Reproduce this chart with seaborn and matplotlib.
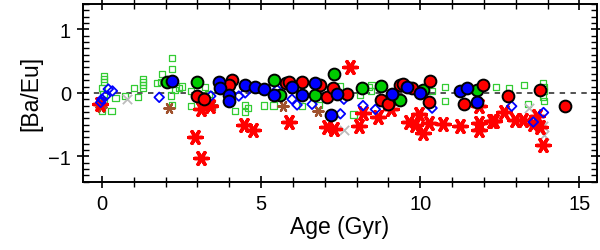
import numpy as np
import pandas as pd
import matplotlib
matplotlib.use('Agg')
import matplotlib.pyplot as plt
from matplotlib.ticker import MultipleLocator
import seaborn as sns

# ---- data: (age in Gyr, [Ba/Eu]) ----
sq_age = [0.07, 0.07, 0.07, 0.0, 0.05, 0.0, 0.3, 0.05, 0.43, 0.72, 1.0, 1.13, 1.3, 1.3, 1.3, 1.3,
          1.72, 1.88, 1.85, 2.2, 2.2, 2.16, 2.2, 2.3, 2.41, 2.52, 2.81, 2.81, 3.25, 3.35, 4.19, 4.5,
          4.5, 4.6, 5.08, 5.39, 6.28, 6.8, 7.48, 7.9, 8.1, 8.37, 8.47, 8.45, 10.36, 10.77, 10.77,
          12.39, 12.78, 13.26, 13.39, 13.86, 13.89, 13.89, 13.86, 13.89]
sq_val = [0.27, 0.22, 0.17, 0.08, -0.02, -0.29, -0.29, -0.15, -0.08, -0.05, 0.08, -0.06, 0.22, 0.17, 0.12, 0.08,
          0.16, 0.3, 0.17, 0.55, 0.37, -0.04, -0.19, 0.05, 0.08, 0.1, 0.03, -0.21, 0.09, -0.02, -0.29, -0.3,
          -0.19, -0.24, -0.2, -0.2, -0.21, -0.19, 0.1, -0.34, -0.03, 0.09, 0.13, 0.03, 0.03, 0.09, -0.13,
          0.09, 0.08, 0.12, -0.17, 0.16, 0.09, 0.03, -0.07, -0.13]

gx_age = [0.8, 7.6, 13.42, 13.85, 13.88]
gx_val = [-0.1, -0.58, -0.24, -0.52, -0.66]

br_age = [-0.02, 2.12, 3.45, 5.7, 6.78]
br_val = [-0.22, -0.24, -0.19, -0.2, -0.28]

rs_age = [-0.05, 2.92, 3.1, 3.1, 3.4, 4.47, 4.76, 5.87, 7.07, 7.28, 7.78, 8.07, 8.2, 8.68, 9.08,
          9.64, 9.83, 9.97, 10.07, 10.27, 10.72, 11.24, 11.85, 11.85, 11.85, 12.25, 12.33, 12.64,
          12.97, 13.23, 13.54, 13.66, 13.75, 13.86]
rs_val = [-0.18, -0.7, -1.02, -0.26, -0.2, -0.5, -0.58, -0.46, -0.54, -0.57, 0.41, -0.52, -0.32, -0.38, -0.25,
          -0.46, -0.5, -0.34, -0.64, -0.47, -0.49, -0.52, -0.47, -0.58, -0.2, -0.44, -0.45, -0.3,
          -0.43, -0.42, -0.49, -0.36, -0.53, -0.82]

bd_age = [-0.04, 0.0, 0.12, 0.2, 0.33, 1.8, 3.42, 4.3, 4.5, 5.5, 5.97, 6.13, 6.6, 7.49, 7.6, 8.2,
          8.59, 10.37, 12.87, 13.55, 13.87]
bd_val = [-0.15, -0.1, -0.05, 0.06, 0.03, -0.07, -0.05, -0.05, 0.0, 0.05, -0.1, -0.19, -0.18, -0.33, -0.1, -0.2,
          -0.26, -0.24, -0.21, -0.46, -0.31]

gc_age = [2.04, 3.0, 5.4, 5.6, 6.7, 7.3, 8.18, 8.78, 9.37, 10.08, 11.78]
gc_val = [0.17, 0.17, 0.21, -0.03, -0.03, 0.3, 0.07, 0.11, -0.12, 0.04, 0.04]

rc_age = [3.0, 3.2, 4.08, 3.98, 5.77, 5.88, 6.28, 6.85, 7.06, 7.27, 7.69, 8.77, 8.98, 9.36, 9.45,
          9.73, 10.3, 10.27, 11.37, 11.97, 12.76, 13.75, 14.56]
rc_val = [-0.05, -0.09, 0.21, 0.12, 0.16, 0.17, 0.17, 0.12, -0.07, 0.08, -0.02, -0.12, -0.17, 0.12, 0.14,
          0.08, 0.19, -0.14, -0.18, 0.12, -0.05, 0.04, -0.2]

bc_age = [2.2, 3.67, 3.72, 3.98, 4.0, 4.48, 4.82, 5.1, 5.42, 5.97, 6.28, 6.7, 7.38, 7.2, 9.1,
          9.57, 10.0, 11.25, 11.46, 11.78]
bc_val = [0.19, 0.17, 0.08, -0.03, -0.13, 0.13, 0.09, 0.06, -0.04, 0.09, -0.03, 0.16, -0.02, -0.35, -0.02,
          0.1, 0.0, 0.03, 0.08, -0.15]

plt.rcParams['font.family'] = ['Liberation Sans', 'DejaVu Sans']

fig = plt.figure(figsize=(6.0, 2.51), dpi=100)
ax = fig.add_axes([0.138, 0.272, 0.857, 0.708])

ast = (6, 2, 90)  # asterisk marker

# open green squares
sns.scatterplot(x=sq_age, y=sq_val, marker='s', s=20, facecolor='none',
                edgecolor='#33cc33', linewidth=0.9, ax=ax, zorder=2)
# grey crosses
sns.scatterplot(x=gx_age, y=gx_val, marker='x', s=45, color='#bbbbbb',
                linewidth=1.3, ax=ax, zorder=3)
# brown asterisks
sns.scatterplot(x=br_age, y=br_val, marker=ast, s=55, color='#a0522d',
                edgecolor='#a0522d', linewidth=1.6, ax=ax, zorder=3)
# red asterisks
sns.scatterplot(x=rs_age, y=rs_val, marker=ast, s=95, color='#ff0000',
                edgecolor='#ff0000', linewidth=2.5, ax=ax, zorder=4)
# open blue diamonds
sns.scatterplot(x=bd_age, y=bd_val, marker='D', s=24, facecolor='none',
                edgecolor='#0000ff', linewidth=1.3, ax=ax, zorder=5)
# filled circles with black rims
sns.scatterplot(x=gc_age, y=gc_val, marker='o', s=72, color='#00cc00',
                edgecolor='black', linewidth=1.4, ax=ax, zorder=6)
sns.scatterplot(x=rc_age, y=rc_val, marker='o', s=72, color='#ff0000',
                edgecolor='black', linewidth=1.4, ax=ax, zorder=6)
sns.scatterplot(x=bc_age, y=bc_val, marker='o', s=72, color='#0000ff',
                edgecolor='black', linewidth=1.4, ax=ax, zorder=6)

ax.axhline(0, color='#444444', linestyle=(0, (3, 3)), linewidth=1.3, zorder=1)

ax.set_xlim(-0.6, 15.55)
ax.set_ylim(-1.4, 1.4)
ax.xaxis.set_major_locator(MultipleLocator(5))
ax.xaxis.set_minor_locator(MultipleLocator(1))
ax.yaxis.set_major_locator(MultipleLocator(1))
ax.yaxis.set_minor_locator(MultipleLocator(0.1))

ax.tick_params(which='major', direction='inout', length=9, width=1.2,
               top=True, right=True, labelsize=14.5, pad=4)
ax.tick_params(which='minor', direction='in', length=4, width=1.0,
               top=True, right=True)
ax.tick_params(axis='x', which='minor', direction='inout', length=7)

for sp in ax.spines.values():
    sp.set_linewidth(1.4)

ax.set_xlabel('Age (Gyr)', fontsize=16.5, labelpad=2)
ax.set_ylabel('[Ba/Eu]', fontsize=16.5, labelpad=4)

fig.savefig('out.png', dpi=100)
